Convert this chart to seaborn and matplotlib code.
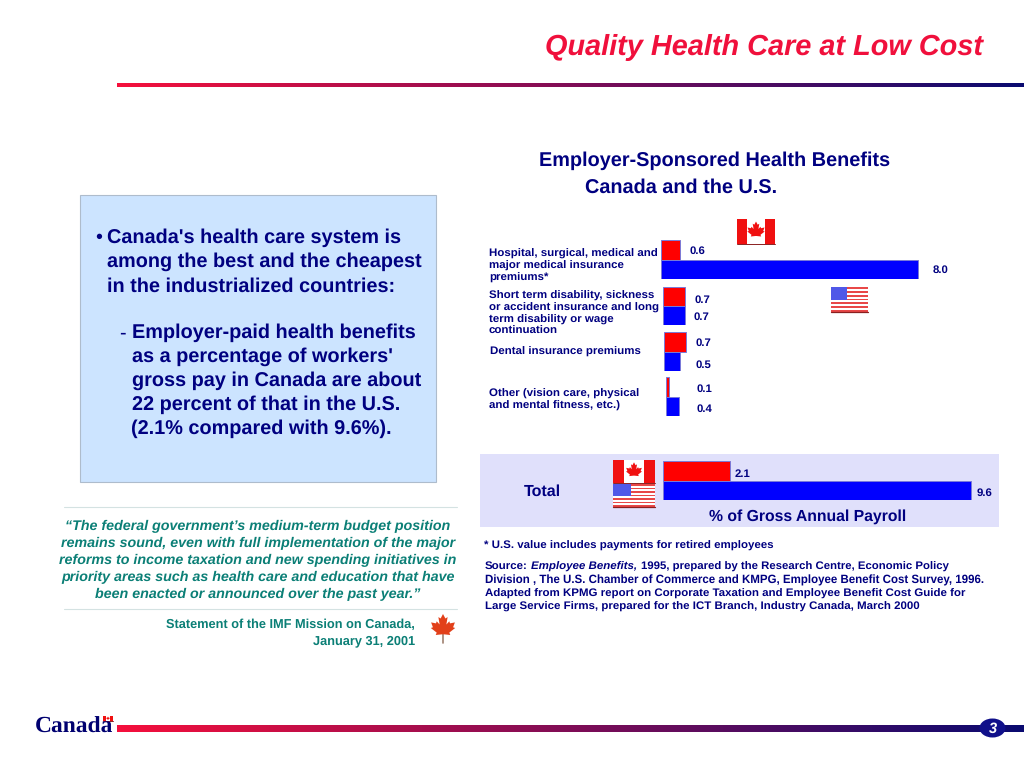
import numpy as np
import matplotlib
matplotlib.use('Agg')
import matplotlib.pyplot as plt
import seaborn as sns
import pandas as pd
from matplotlib.colors import LinearSegmentedColormap
from matplotlib.patches import Rectangle, Polygon, Ellipse

benefit_labels = ['Hospital, surgical, medical and\nmajor medical insurance\npremiums*',
                  'Short term disability, sickness\nor accident insurance and long\nterm disability or wage\ncontinuation',
                  'Dental insurance premiums',
                  'Other (vision care, physical\nand mental fitness, etc.)']
canada_values = [0.6, 0.7, 0.7, 0.1]
us_values = [8.0, 0.7, 0.5, 0.4]
total_canada = 2.1
total_us = 9.6
countries = ['Canada', 'U.S.']

NAVY = '#000080'
TEAL = '#0b7f76'
RED = '#ff0000'
BLUE = '#0000ff'
W, H = 1024, 768
PX_PER_UNIT = 32.1

sns.set_theme(style='white')
plt.rcParams['font.family'] = ['Liberation Sans', 'DejaVu Sans']
plt.rcParams['text.hinting'] = 'no_hinting'

fig = plt.figure(figsize=(10.24, 7.68), dpi=100, facecolor='white')
page = fig.add_axes([0, 0, 1, 1])
page.set_xlim(0, W)
page.set_ylim(H, 0)
page.axis('off')


def txt(x, y, s, size, color=NAVY, weight='bold', style='normal', ha='left', va='center', **kw):
    return page.text(x, y, s, fontsize=size, color=color, fontweight=weight, fontstyle=style,
                     ha=ha, va=va, zorder=5, **kw)


def rule(x0, x1, y0, y1):
    cmap = LinearSegmentedColormap.from_list('rule', ['#f5103c', '#0a0a70'])
    page.imshow(np.linspace(0, 1, 256).reshape(1, -1), cmap=cmap, aspect='auto',
                extent=[x0, x1, y1, y0], zorder=2)


def leaf(cx, cy, r, color, stem=0.0):
    half = [(0, 1), (-.17, .68), (-.33, .78), (-.24, .25), (-.45, .48), (-.5, .33), (-.85, .4),
            (-.72, .05), (-.87, 0), (-.45, -.33), (-.52, -.5), (-.05, -.45)]
    pts = half + [(-x, y) for x, y in half[:0:-1]]
    page.add_patch(Polygon([(cx + x * r, cy - y * r) for x, y in pts], fc=color, ec='none', zorder=4))
    if stem:
        page.plot([cx, cx], [cy + .4 * r, cy + stem], color='#a08070', lw=1.2, zorder=3)


def canada_flag(x0, y0, x1, y1):
    w = x1 - x0
    page.add_patch(Rectangle((x0, y0), w, y1 - y0, fc='white', ec='none', zorder=3))
    for a in (x0, x1 - w * .27):
        page.add_patch(Rectangle((a, y0), w * .27, y1 - y0, fc='#f01010', ec='none', zorder=3))
    leaf((x0 + x1) / 2, (y0 + y1) / 2, (y1 - y0) * .4, '#f01010')
    page.plot([x0, x1], [y1, y1], color='#8a2020', lw=0.7, zorder=4)


def us_flag(x0, y0, x1, y1):
    h = (y1 - y0) / 13
    for i in range(13):
        page.add_patch(Rectangle((x0, y0 + i * h), x1 - x0, h,
                                 fc='#e84848' if i % 2 == 0 else 'white', ec='none', zorder=3))
    page.add_patch(Rectangle((x0, y0), (x1 - x0) * .42, h * 7, fc='#5058e8', ec='none', zorder=4))
    page.plot([x0, x1], [y1, y1], color='#8a2020', lw=0.9, zorder=4)


def bar_group(left, top, bottom, canada, us):
    ax = fig.add_axes([left / W, 1 - bottom / H, 340 / W, (bottom - top) / H])
    df = pd.DataFrame({'country': countries, 'value': [canada, us]})
    sns.barplot(data=df, x='value', y='country', hue='country', palette=[RED, BLUE], width=1.0,
                dodge=False, legend=False, saturation=1, edgecolor='#7a7ad8', linewidth=0.7, ax=ax)
    ax.set_xlim(0, 340 / PX_PER_UNIT)
    ax.axis('off')
    ax.patch.set_alpha(0)
    return ax


# panels behind the bars
page.add_patch(Rectangle((80, 195), 356, 287, fc='#cce4ff', ec='#aebccc', lw=0.8, zorder=1))
page.add_patch(Rectangle((480, 454), 519, 73, fc='#e0e0fb', ec='none', zorder=1))

rule(117, 1024, 83, 87)
rule(117, 1024, 725, 732)

txt(983, 47, 'Quality Health Care at Low Cost', 20.75, color='#f0103c', style='italic', ha='right')

txt(539, 161, 'Employer-Sponsored Health Benefits', 14.3)
txt(585, 188, 'Canada and the U.S.', 14.3)

# left box
box_lines = [(107, 238, 'Canada\'s health care system is'),
             (107, 262, 'among the best and the cheapest'),
             (107, 287, 'in the industrialized countries:'),
             (132, 333, 'Employer-paid health benefits'),
             (132, 357, 'as a percentage of workers\''),
             (132, 381, 'gross pay in Canada are about'),
             (132, 405, '22 percent of that in the U.S.'),
             (131, 429, '(2.1% compared with 9.6%).')]
for x, y, s in box_lines:
    txt(x, y, s, 14.3)
txt(95, 238, '•', 14.2, weight='normal')
txt(119, 333, '-', 14.2, weight='normal')

# quote
quote_lines = ['“The federal government’s medium-term budget position',
               'remains sound, even with full implementation of the major',
               'reforms to income taxation and new spending initiatives in',
               'priority areas such as health care and education that have',
               'been enacted or announced over the past year.”']
for i, s in enumerate(quote_lines):
    txt(258, 526 + i * 17, s, 10.3, color=TEAL, style='italic', ha='center')
for y in (507, 609):
    page.plot([64, 457], [y, y], color='#d4e2e2', lw=0.8, zorder=2)
txt(415, 625, 'Statement of the IMF Mission on Canada,', 9.2, color=TEAL, ha='right')
txt(415, 641, 'January 31, 2001', 9.2, color=TEAL, ha='right')
leaf(443, 628, 14, '#e2401a', stem=15)

# chart
group_boxes = [(661, 240, 279), (663, 287, 325), (664, 332, 371), (666, 377, 416)]
for (left, top, bottom), c, u in zip(group_boxes, canada_values, us_values):
    bar_group(left, top, bottom, c, u)
bar_group(663, 461, 500, total_canada, total_us)

label_pos = [(489, 254), (489, 295.5), (490, 352), (489, 394)]
for (x, y), s in zip(label_pos, benefit_labels):
    for i, line in enumerate(s.split('\n')):
        txt(x, y + i * 12, line, 8.25)

value_pos = [[(690, 251), (933, 270)], [(695, 300), (694, 317)], [(696, 343), (696, 365)],
             [(697, 389), (697, 409)]]
for (cp, up), c, u in zip(value_pos, canada_values, us_values):
    txt(cp[0], cp[1], f'{c:.1f}', 8.2)
    txt(up[0], up[1], f'{u:.1f}', 8.2)
txt(735, 474, f'{total_canada:.1f}', 8.2)
txt(977, 493, f'{total_us:.1f}', 8.2)

txt(524, 492, 'Total', 11.5)
txt(808, 516.5, '% of Gross Annual Payroll', 11.3, ha='center')

canada_flag(737, 219, 775, 244)
us_flag(831, 287, 868, 312)
canada_flag(613, 460, 655, 483)
us_flag(613, 484, 655, 507)

txt(484, 546, '* U.S. value includes payments for retired employees', 8.25)
txt(485, 566.5, 'Source:', 8.25)
txt(531, 566.5, 'Employee Benefits,', 8.25, style='italic')
txt(641, 566.5, '1995, prepared by the Research Centre, Economic Policy', 8.2)
txt(485, 580, 'Division , The U.S. Chamber of Commerce and KMPG, Employee Benefit Cost Survey, 1996.', 8.3)
txt(485, 593.5, 'Adapted from KPMG report on Corporate Taxation and Employee Benefit Cost Guide for', 8.25)
txt(485, 607, 'Large Service Firms, prepared for the ICT Branch, Industry Canada, March 2000', 8.25)

# wordmark and page number
txt(35, 727, 'Canada', 16.9, color='#000070', family=['Liberation Serif'])
canada_flag(103, 716, 113, 721)
page.add_patch(Ellipse((992.5, 728), 26, 19, fc='#10108a', ec='none', zorder=4))
txt(993, 728.5, '3', 10.5, color='white', style='italic', ha='center')

fig.savefig('out.png', dpi=100)
